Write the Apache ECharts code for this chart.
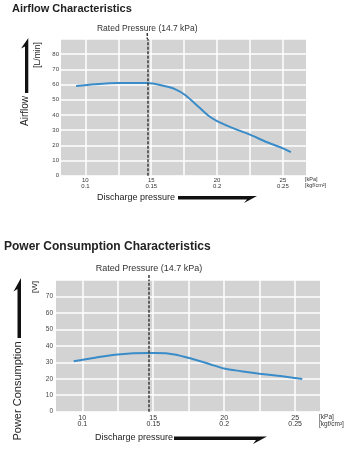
<!DOCTYPE html>
<html>
<head>
<meta charset="utf-8">
<script src="https://cdn.jsdelivr.net/npm/echarts@6/dist/echarts.min.js"></script>
<style>
html,body{margin:0;padding:0;background:#fff;}
#c{width:350px;height:450px;}
</style>
</head>
<body>
<div id="c"></div>
<script>
// ---- data ----
const airflowKPa  = [9.3, 10.7, 12.5, 14.7, 16.0, 16.8, 17.6, 18.7, 19.35, 20.0, 21.3, 22.5, 23.8, 25.0, 25.6];
const airflowLmin = [59, 60.2, 61, 61, 59, 57, 53, 44.5, 39.5, 36, 31, 27, 22, 18, 15.5];
const powerKPa    = [9.4, 10.9, 12.5, 14.7, 15.2, 16.5, 17.9, 18.9, 20.0, 21.2, 22.5, 24.1, 25.5];
const powerW      = [30.7, 32.8, 34.8, 35.6, 35.6, 34.8, 31.7, 29.1, 26.2, 24.6, 23.1, 21.5, 19.9];
const kpaTicks    = [10, 15, 20, 25];
const kgfTicks    = ['0.1', '0.15', '0.2', '0.25'];
const gridTicks   = [10, 12.5, 15, 17.5, 20, 22.5, 25];
const ratedKPa    = 14.7;
const ratedLabel  = 'Rated Pressure (14.7 kPa)';

const FONT = 'Liberation Sans, Arial, sans-serif';
const LINE = '#3a8cc9';
const BG = '#d3d3d3';

function pairs(xs, ys){ return xs.map((x,i)=>[x, ys[i]]); }
function xLabel(v){ const i = kpaTicks.indexOf(v); return i < 0 ? '' : v + '\n' + kgfTicks[i]; }

function xAxisCfg(gi, fs, lh, unitFs, unitLh, unitPad, margin){
  return {
    type:'value', gridIndex:gi, min:8.15, max:26.75,
    axisLine:{show:false},
    axisTick:{show:false, customValues:gridTicks},
    axisLabel:{customValues:kpaTicks, formatter:xLabel, fontSize:fs, lineHeight:lh, color:'#333', fontFamily:FONT, margin:margin},
    splitLine:{show:true, lineStyle:{color:'#ffffff', width:1.5}},
    name:'[kPa]\n[kgf/cm²]', nameLocation:'end', nameGap:-1,
    nameTextStyle:{fontSize:unitFs, lineHeight:unitLh, align:'left', verticalAlign:'top', padding:[unitPad,0,0,0], color:'#333', fontFamily:FONT}
  };
}
function yAxisCfg(gi, max, fs, margin){
  return {
    type:'value', gridIndex:gi, min:0, max:max, interval:10,
    axisLine:{show:false}, axisTick:{show:false},
    axisLabel:{showMaxLabel:false, fontSize:fs, color:'#444', fontFamily:FONT, margin:margin},
    splitLine:{show:true, lineStyle:{color:'#ffffff', width:1.5}}
  };
}
function rated(fs, dist){
  return {
    symbol:'none', silent:true,
    lineStyle:{color:'#3a3a3a', type:[3,1.5], width:1.5},
    label:{show:true, position:'end', formatter:ratedLabel, fontSize:fs, color:'#333', fontFamily:FONT, distance:dist},
    data:[{xAxis:ratedKPa}]
  };
}

const chart = echarts.init(document.getElementById('c'), null, {renderer:'canvas'});
chart.setOption({
  animation:false,
  backgroundColor:'#ffffff',
  title:[
    {text:'Airflow Characteristics', left:12, top:3, padding:0, textStyle:{fontSize:11, fontWeight:'bold', color:'#222', fontFamily:FONT}},
    {text:'Power Consumption Characteristics', left:4, top:241, padding:0, textStyle:{fontSize:12, fontWeight:'bold', color:'#222', fontFamily:FONT}}
  ],
  grid:[
    {left:61, top:39, width:245, height:136.7, show:true, backgroundColor:BG, borderWidth:0},
    {left:56, top:280, width:264, height:131.7, show:true, backgroundColor:BG, borderWidth:0}
  ],
  xAxis:[ xAxisCfg(0, 6, 5.5, 5.5, 5.5, 1.5, 2), xAxisCfg(1, 7, 6.5, 6.5, 7, 2, 3) ],
  yAxis:[ yAxisCfg(0, 90, 6, 2), yAxisCfg(1, 80, 6.5, 3) ],
  series:[
    {type:'line', xAxisIndex:0, yAxisIndex:0, data:pairs(airflowKPa, airflowLmin), smooth:0.3, showSymbol:false,
     lineStyle:{color:LINE, width:2}, markLine:rated(8.5, 6)},
    {type:'line', xAxisIndex:1, yAxisIndex:1, data:pairs(powerKPa, powerW), smooth:0.3, showSymbol:false,
     lineStyle:{color:LINE, width:2}, markLine:rated(9, 7)}
  ]
});

// reference-line stubs above the plots, located through the axes
const p0 = chart.convertToPixel({gridIndex:0}, [ratedKPa, 90]);
const p1 = chart.convertToPixel({gridIndex:1}, [ratedKPa, 80]);
const txt = (t, x, y, fs, opts) => Object.assign({type:'text', x:x, y:y, style:{text:t, fontSize:fs, fontFamily:FONT, fill:'#222', textAlign:'center', textVerticalAlign:'middle'}}, opts||{});
chart.setOption({
  graphic:[
    {type:'line', shape:{x1:p0[0], y1:p0[1]-6, x2:p0[0], y2:p0[1]}, style:{stroke:'#3a3a3a', lineWidth:1.5, lineDash:[3,1.5]}},
    {type:'line', shape:{x1:p1[0], y1:p1[1]-5, x2:p1[0], y2:p1[1]}, style:{stroke:'#3a3a3a', lineWidth:1.5, lineDash:[3,1.5]}},
    // vertical arrows
    {type:'polygon', shape:{points:[[28.3,38],[28.3,93],[25,93],[25,46.5],[21,48.5]]}, style:{fill:'#111'}},
    {type:'polygon', shape:{points:[[21,278],[21,338],[17.5,338],[17.5,289],[13.5,291.5]]}, style:{fill:'#111'}},
    // horizontal arrows
    {type:'polygon', shape:{points:[[178,196],[257,196],[244,203],[247,199.5],[178,199.5]]}, style:{fill:'#111'}},
    {type:'polygon', shape:{points:[[174,436.5],[267,436.5],[253,444],[256,440],[174,440]]}, style:{fill:'#111'}},
    // rotated axis titles
    txt('Airflow', 25, 111, 10, {rotation:Math.PI/2}),
    txt('[L/min]', 38, 55, 8.5, {rotation:Math.PI/2}),
    txt('Power Consumption', 18, 391, 11, {rotation:Math.PI/2}),
    txt('[W]', 34.5, 287, 8, {rotation:Math.PI/2}),
    // x axis titles
    {type:'text', x:97, y:197.5, style:{text:'Discharge pressure', fontSize:9, fontFamily:FONT, fill:'#222', textAlign:'left', textVerticalAlign:'middle'}},
    {type:'text', x:95, y:438, style:{text:'Discharge pressure', fontSize:9, fontFamily:FONT, fill:'#222', textAlign:'left', textVerticalAlign:'middle'}}
  ]
});
</script>
</body>
</html>
